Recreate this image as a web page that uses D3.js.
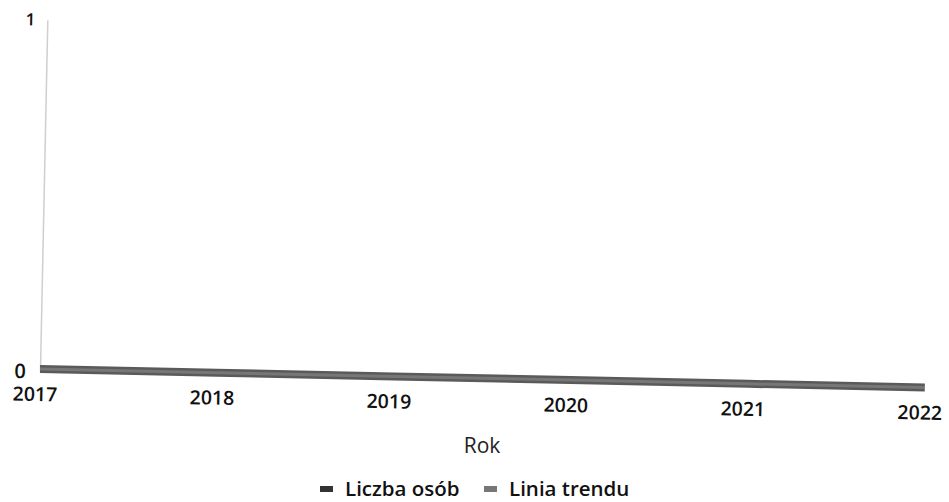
<!DOCTYPE html>
<html>
<head>
<meta charset="utf-8">
<script src="https://cdn.jsdelivr.net/npm/d3@7"></script>
<style>
  html, body { margin: 0; padding: 0; background: #fff; }
  svg { display: block; }
  svg text { font-family: "Open Sans", "DejaVu Sans", sans-serif; }
</style>
</head>
<body>
<svg id="chart" width="949" height="502"></svg>
<script>
const years = [2017, 2018, 2019, 2020, 2021, 2022];
const liczbaOsob = [0, 0, 0, 0, 0, 0];
const liniaTrendu = [0, 0, 0, 0, 0, 0];
const yTicks = [0, 1];
const seriesNames = ["Liczba osób", "Linia trendu"];
const seriesColors = ["#5a5a5a", "#8a8a8a"];
const swatchColors = ["#333333", "#777777"];

const FONT = '"Open Sans", "DejaVu Sans", sans-serif';
const svg = d3.select("#chart");
const x0 = 40, x1 = 925, yBottom = 369, yTop = 20;
const x = d3.scaleLinear().domain([2017, 2022]).range([x0, x1]);
const y = d3.scaleLinear().domain([0, 1]).range([yBottom, yTop]);

// the scanned chart is slightly rotated
const g = svg.append("g").attr("transform", `rotate(1.2, ${x0}, ${yBottom})`);

// y axis
const yAxis = g.append("g").attr("transform", `translate(${x0},0)`)
  .call(d3.axisLeft(y).tickValues(yTicks).tickSize(0).tickPadding(14).tickFormat(d3.format("d")));
yAxis.attr("font-family", FONT);
yAxis.select(".domain").attr("stroke", "#cfcfcf").attr("stroke-width", 1.5);
yAxis.selectAll("text").attr("font-family", FONT).attr("font-size", 20).attr("font-weight", 600)
  .attr("fill", "#111").attr("dy", "0.45em");
yAxis.selectAll(".tick").filter(d => d === 1).select("text")
  .attr("font-size", 17).attr("dx", 2).attr("dy", "0.3em");

// lines
const line = d3.line().x((d, i) => x(years[i])).y(d => y(d));
g.append("path").datum(liczbaOsob).attr("d", line)
  .attr("fill", "none").attr("stroke", seriesColors[0]).attr("stroke-width", 8);
g.append("path").datum(liniaTrendu).attr("d", line)
  .attr("fill", "none").attr("stroke", seriesColors[1]).attr("stroke-width", 3).attr("opacity", 0.6);

// x tick labels
const xg = g.append("g").attr("transform", `translate(-5, ${yBottom})`)
  .call(d3.axisBottom(x).tickValues(years).tickSize(0).tickPadding(0).tickFormat(d3.format("d")));
xg.attr("font-family", FONT);
xg.select(".domain").remove();
xg.selectAll("text").attr("font-family", FONT).attr("font-size", 19.5).attr("font-weight", 600)
  .attr("fill", "#111").attr("dy", null).attr("y", 32);

// axis title
svg.append("text").attr("x", 482).attr("y", 453).attr("text-anchor", "middle")
  .attr("font-size", 21).attr("fill", "#222").text("Rok");

// legend
const legend = svg.append("g").attr("transform", "translate(0, 496)");
const legX = [320, 484];
seriesNames.forEach((name, i) => {
  legend.append("rect").attr("x", legX[i]).attr("y", -10).attr("width", 13).attr("height", 6)
    .attr("fill", swatchColors[i]);
  legend.append("text").attr("x", legX[i] + 25).attr("y", 0).attr("font-size", 20.5)
    .attr("font-weight", 600).attr("fill", "#111").text(name);
});
</script>
</body>
</html>
